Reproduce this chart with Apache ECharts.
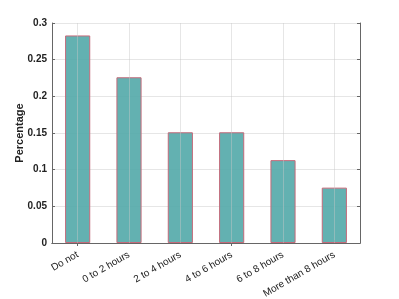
<!DOCTYPE html>
<html><head><meta charset="utf-8">
<script src="https://cdn.jsdelivr.net/npm/echarts@6/dist/echarts.min.js"></script>
<style>html,body{margin:0;padding:0;background:#fff}#c{width:399px;height:299px}</style>
</head><body><div id="c"></div>
<script>
const categories = ['Do not', '0 to 2 hours', '2 to 4 hours', '4 to 6 hours', '6 to 8 hours', 'More than 8 hours'];
const values = [0.283, 0.226, 0.151, 0.151, 0.113, 0.0755];
const yTicks = [0, 0.05, 0.1, 0.15, 0.2, 0.25, 0.3];

const chart = echarts.init(document.getElementById('c'));
const axisLine = {show: true, lineStyle: {color: '#666', width: 1}};
const tick = {show: true, inside: true, length: 3, lineStyle: {color: '#666'}};
chart.setOption({
  animation: false,
  grid: {left: 52, right: 39, top: 23, bottom: 56, containLabel: false, outerBoundsMode: 'none'},
  xAxis: [{
    type: 'category', data: categories, position: 'bottom',
    axisLine: axisLine,
    axisTick: Object.assign({}, tick, {alignWithLabel: true}),
    splitLine: {show: false},
    axisLabel: {rotate: 30, fontSize: 10, color: '#222', fontFamily: 'Liberation Sans, Arial', margin: 11, interval: 0}
  }, {
    type: 'category', data: categories, position: 'top',
    axisLine: axisLine,
    axisTick: Object.assign({}, tick, {alignWithLabel: true}),
    axisLabel: {show: false}, splitLine: {show: false}
  }],
  yAxis: [{
    type: 'value', min: 0, max: 0.3, interval: 0.05,
    name: 'Percentage', nameLocation: 'middle', nameGap: 27, nameMoveOverlap: false,
    nameTextStyle: {fontSize: 11, fontWeight: 'bold', color: '#222', fontFamily: 'Liberation Sans, Arial'},
    axisLine: axisLine, axisTick: tick,
    splitLine: {show: true, lineStyle: {color: '#e6e6e6'}},
    axisLabel: {fontSize: 10, fontWeight: 'bold', color: '#222', fontFamily: 'Liberation Sans, Arial', margin: 5,
      formatter: v => { const t = yTicks.find(x => Math.abs(x - v) < 1e-9); return t === undefined ? '' : String(+t.toFixed(2)); }}
  }, {
    type: 'value', min: 0, max: 0.3, interval: 0.05, position: 'right',
    axisLine: axisLine, axisTick: tick, axisLabel: {show: false}, splitLine: {show: false}
  }],
  series: [{
    type: 'bar', data: values, barWidth: '49%', xAxisIndex: 0, yAxisIndex: 0,
    itemStyle: {color: 'rgba(82,169,169,0.9)', borderColor: '#c46a7a', borderWidth: 1},
    markLine: {
      silent: true, symbol: 'none', label: {show: false},
      lineStyle: {color: 'rgba(200,200,200,0.45)', type: 'solid', width: 1},
      emphasis: {disabled: true},
      data: categories.map(c => ({xAxis: c}))
    }
  }]
});
</script></body></html>
